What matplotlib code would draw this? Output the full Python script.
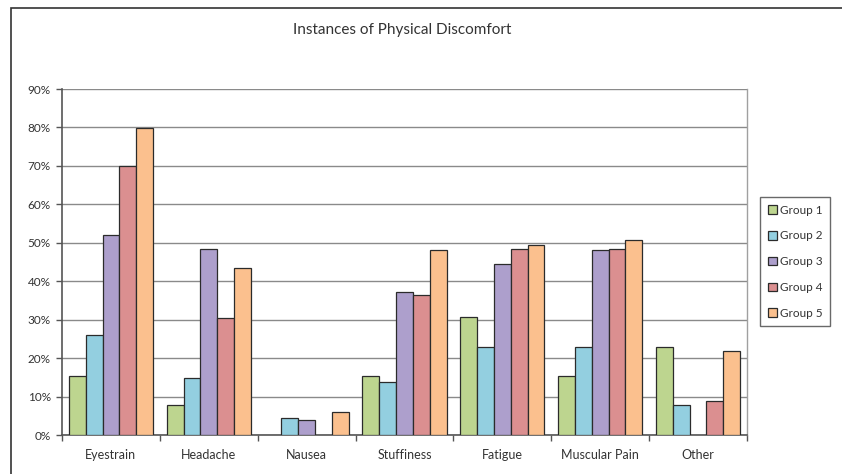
import matplotlib
matplotlib.use("Agg")
import matplotlib.pyplot as plt
from matplotlib.patches import Rectangle
from matplotlib.ticker import FuncFormatter, FixedLocator
import numpy as np

plt.rcParams['font.family'] = ['Lato', 'DejaVu Sans']

categories = ["Eyestrain", "Headache", "Nausea", "Stuffiness", "Fatigue", "Muscular Pain", "Other"]
groups = ["Group 1", "Group 2", "Group 3", "Group 4", "Group 5"]
group1 = [15.4, 7.8, 0.0, 15.4, 30.8, 15.4, 23.0]
group2 = [25.9, 14.9, 4.3, 13.7, 22.8, 22.8, 7.8]
group3 = [51.9, 48.4, 3.9, 37.2, 44.5, 48.2, 0.0]
group4 = [69.9, 30.4, 0.0, 36.4, 48.4, 48.4, 8.9]
group5 = [79.9, 43.4, 5.9, 48.0, 49.5, 50.8, 21.9]
series = [group1, group2, group3, group4, group5]
colors = ["#bdd58f", "#93cfe0", "#ad9fcc", "#db8f90", "#fbc08e"]

W, H = 842, 474
fig = plt.figure(figsize=(W / 100, H / 100), dpi=100)
fig.patch.set_facecolor("white")

# outer chart frame
fig.patches.append(Rectangle((10.5 / W, -0.05), 1.0, (H - 7.5) / H + 0.05,
                             transform=fig.transFigure, fill=False,
                             edgecolor="#333333", linewidth=1.2))

ax = fig.add_axes([62 / W, 1 - 435 / H, (747 - 62) / W, (435 - 89) / H])
n = len(categories)
x = np.arange(n)
bw = 0.172
for i, (vals, c) in enumerate(zip(series, colors)):
    offs = (i - 2) * bw
    bars = ax.bar(x + offs, vals, width=bw, color=c, edgecolor="#2b2b2b",
                  linewidth=0.9, label=groups[i], zorder=3)
    for b, v in zip(bars, vals):
        if v == 0:
            b.set_linewidth(0)

ax.set_xlim(-0.5, n - 0.5)
ax.set_ylim(0, 90)
ax.yaxis.set_major_locator(FixedLocator(np.arange(0, 91, 10)))
ax.yaxis.set_major_formatter(FuncFormatter(lambda v, p: f"{int(round(v))}%"))
ax.grid(axis="y", color="#8a8a8a", linewidth=1.0, zorder=0)
ax.set_axisbelow(True)

ax.set_xticks(x)
ax.set_xticklabels(categories)
ax.tick_params(axis="x", which="major", length=0, pad=10, labelsize=9, labelcolor="#333333")
ax.set_xticks(np.arange(-0.5, n, 1.0), minor=True)
ax.tick_params(axis="x", which="minor", length=4, width=1, color="#555555", direction="out")
ax.tick_params(axis="y", length=4, width=1, color="#555555", direction="out",
               labelsize=8.5, labelcolor="#333333", pad=4)

for side in ["left", "bottom"]:
    ax.spines[side].set_color("#555555")
    ax.spines[side].set_linewidth(1.2)
ax.spines["right"].set_color("#a0a0a0")
ax.spines["right"].set_linewidth(1.0)
ax.spines["top"].set_visible(False)

fig.text(402 / W, 1 - 30 / H, "Instances of Physical Discomfort",
         ha="center", va="center", fontsize=11, color="#333333")

leg = ax.legend(loc="upper left", bbox_to_anchor=(760 / W, 1 - 197 / H),
                bbox_transform=fig.transFigure, frameon=True, fancybox=False,
                fontsize=8.5, handlelength=0.75, handleheight=0.75, handletextpad=0.3,
                labelspacing=1.25, borderpad=0.65, borderaxespad=0)
leg.get_frame().set_edgecolor("#444444")
leg.get_frame().set_linewidth(1.0)
for t in leg.get_texts():
    t.set_color("#333333")

fig.savefig("out.png", dpi=100, facecolor="white")
